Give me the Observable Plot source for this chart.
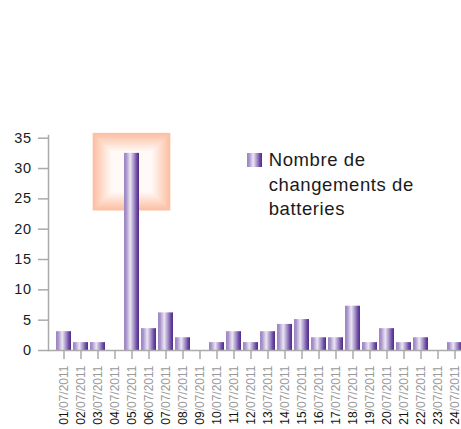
<!DOCTYPE html>
<html>
<head>
<meta charset="utf-8">
<script src="https://cdn.jsdelivr.net/npm/d3@7"></script>
<script src="https://cdn.jsdelivr.net/npm/@observablehq/plot@0.6"></script>
<style>
  html, body { margin: 0; padding: 0; background: #fff; overflow: hidden; }
  #wrap { position: relative; width: 461px; height: 429px; }
  #legend { position: absolute; left: 247px; top: 148px; font-family: "Liberation Sans", Arial, sans-serif;
            font-size: 18.5px; letter-spacing: 0.6px; line-height: 24.5px; color: #1a1a1a; }
  #legend .sw { position: absolute; left: 0; top: 5px; width: 15px; height: 14px;
    background: linear-gradient(to right, #9a84bf 0%, #a994cb 15%, #cfc3e2 30%, #ebe5f2 42%, #c5b8dc 55%, #9b84c2 70%, #6d4ca3 85%, #4f2a87 100%); }
  #legend .tx { position: absolute; left: 21.7px; top: 0; white-space: nowrap; }
</style>
</head>
<body>
<div id="wrap">
  <div id="chart"></div>
  <div id="legend"><div class="sw"></div><div class="tx">Nombre de<br>changements de<br>batteries</div></div>
</div>
<script>
const dates = ["01/07/2011","02/07/2011","03/07/2011","04/07/2011","05/07/2011","06/07/2011",
  "07/07/2011","08/07/2011","09/07/2011","10/07/2011","11/07/2011","12/07/2011",
  "13/07/2011","14/07/2011","15/07/2011","16/07/2011","17/07/2011","18/07/2011",
  "19/07/2011","20/07/2011","21/07/2011","22/07/2011","23/07/2011","24/07/2011"];
const values = [3.1, 1.3, 1.3, 0, 32.5, 3.6, 6.2, 2.1, 0, 1.3, 3.1, 1.3,
  3.1, 4.3, 5.1, 2.1, 2.1, 7.3, 1.3, 3.6, 1.3, 2.1, 0, 1.3];
const yTicks = [0, 5, 10, 15, 20, 25, 30, 35];
const highlightDate = "05/07/2011";
const highlightLow = 23;
const highlightHigh = 35.8;

const data = dates.map((d, i) => ({date: d, value: values[i]}));

// rings of the highlight box (outer salmon to white)
const ringCount = 10;
const ringColor = d3.interpolateRgb("#fcc0a5", "#fffaf8");
const rings = d3.range(ringCount).map(k =>
  Plot.barY([{date: highlightDate, y1: highlightLow, y2: highlightHigh}], {
    x: "date", y1: "y1", y2: "y2",
    fill: ringColor(k / (ringCount - 1)),
    insetLeft: -31.3 + 2 * k, insetRight: -31.3 + 2 * k,
    insetTop: 2 * k, insetBottom: 2 * k
  })
);

const defs = () => {
  const ns = "http://www.w3.org/2000/svg";
  const d = document.createElementNS(ns, "defs");
  const g = document.createElementNS(ns, "linearGradient");
  g.setAttribute("id", "barGrad");
  g.setAttribute("x1", "0"); g.setAttribute("x2", "1");
  g.setAttribute("y1", "0"); g.setAttribute("y2", "0");
  [[0, "#9a84bf"], [0.15, "#a994cb"], [0.3, "#cfc3e2"], [0.42, "#ebe5f2"],
   [0.55, "#c5b8dc"], [0.7, "#9b84c2"], [0.85, "#6d4ca3"], [1, "#4f2a87"]].forEach(([o, c]) => {
    const s = document.createElementNS(ns, "stop");
    s.setAttribute("offset", o);
    s.setAttribute("stop-color", c);
    g.appendChild(s);
  });
  d.appendChild(g);
  return d;
};

const chart = Plot.plot({
  width: 461,
  height: 429,
  marginLeft: 48,
  marginRight: 0,
  marginTop: 135,
  marginBottom: 79,
  style: {fontFamily: "Liberation Sans, Arial, sans-serif", background: "white"},
  x: {domain: dates, range: [48, 469.5], paddingInner: 0.12, paddingOuter: 0.4},
  y: {domain: [0, 35], range: [350, 137.7]},
  marks: [
    defs,
    ...rings,
    Plot.barY(data, {x: "date", y: "value", fill: "url(#barGrad)"}),
    Plot.frame({anchor: "left", stroke: "#aaa", strokeWidth: 1.5}),
    Plot.ruleY([0], {stroke: "#aaa", strokeWidth: 1.5}),
    Plot.axisY({ticks: yTicks, tickSize: 10, tickPadding: 7, fontSize: 14.5, stroke: "#aaa",
      strokeWidth: 1.5, fill: "#1a1a1a", label: null, tickFormat: d => String(d)}),
    Plot.axisX({tickSize: 9, tickPadding: 6, tickRotate: -90, fontSize: 12, stroke: "#aaa",
      strokeWidth: 1.5, fill: "#999", label: null})
  ]
});
document.getElementById("chart").appendChild(chart);

// two-tone tick labels: day in black, rest in gray
chart.querySelectorAll("text").forEach(t => {
  const s = t.textContent;
  if (/^\d\d\/07\/2011$/.test(s)) {
    t.textContent = "";
    const ns = "http://www.w3.org/2000/svg";
    const a = document.createElementNS(ns, "tspan");
    a.setAttribute("fill", "#111");
    a.textContent = s.slice(0, 2);
    const b = document.createElementNS(ns, "tspan");
    b.setAttribute("fill", "#999");
    b.textContent = s.slice(2);
    t.appendChild(a); t.appendChild(b);
  }
});
chart.querySelectorAll('g[aria-label="y-axis tick label"]').forEach(g => g.setAttribute("letter-spacing", "0.5"));
</script>
</body>
</html>
